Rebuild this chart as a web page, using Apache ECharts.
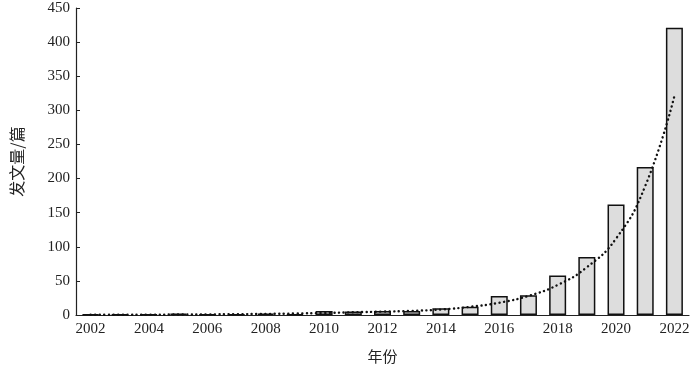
<!DOCTYPE html>
<html>
<head>
<meta charset="utf-8">
<script src="https://cdn.jsdelivr.net/npm/echarts@6/dist/echarts.min.js"></script>
<style>html,body{margin:0;padding:0;background:#fff;}#c{width:700px;height:370px;}</style>
</head>
<body>
<div id="c"></div>
<script>
const years = ['2002','2003','2004','2005','2006','2007','2008','2009','2010','2011','2012','2013','2014','2015','2016','2017','2018','2019','2020','2021','2022'];
const papers = [1, 1, 1, 2, 1, 1, 2, 1, 6, 5, 6, 6, 10, 12, 28, 29, 58, 85, 162, 217, 421];
const trend = [0.3, 0.4, 0.5, 0.7, 0.9, 1.2, 1.6, 2.2, 3, 4, 5, 6, 8, 12, 18, 28, 44, 70, 112, 189, 321];
const yTicks = [0, 50, 100, 150, 200, 250, 300, 350, 400, 450];

const serif = 'Liberation Serif';
const cjk = 'Noto Sans CJK SC';
const chart = echarts.init(document.getElementById('c'));
chart.setOption({
  animation: false,
  grid: {left: 76, right: 11, top: 8, bottom: 55, containLabel: false, outerBoundsMode: 'none'},
  xAxis: {
    type: 'category',
    data: years,
    name: '年份',
    nameLocation: 'middle',
    nameGap: 34,
    nameTextStyle: {fontFamily: cjk, fontSize: 15, color: '#222'},
    axisLine: {lineStyle: {color: '#222', width: 1.2}},
    axisTick: {show: false},
    axisLabel: {interval: 1, fontFamily: serif, fontSize: 15, color: '#222', margin: 7}
  },
  yAxis: {
    type: 'value',
    min: yTicks[0],
    max: yTicks[yTicks.length - 1],
    interval: 50,
    name: '发文量/篇',
    nameLocation: 'middle',
    nameGap: 51,
    nameTextStyle: {fontFamily: cjk, fontSize: 16, color: '#222'},
    axisLine: {show: true, lineStyle: {color: '#222', width: 1.2}},
    axisTick: {show: true, inside: true, length: 4, lineStyle: {color: '#222'}},
    splitLine: {show: false},
    axisLabel: {fontFamily: serif, fontSize: 15, color: '#222', margin: 6}
  },
  series: [
    {
      type: 'bar',
      data: papers,
      barWidth: 17,
      itemStyle: {color: '#dddddd', borderColor: '#111', borderWidth: 1.5}
    },
    {
      type: 'line',
      data: trend,
      smooth: true,
      symbol: 'none',
      z: 5,
      lineStyle: {color: '#111', width: 2.4, type: [0.1, 4.5], cap: 'round'}
    }
  ]
});
</script>
</body>
</html>
